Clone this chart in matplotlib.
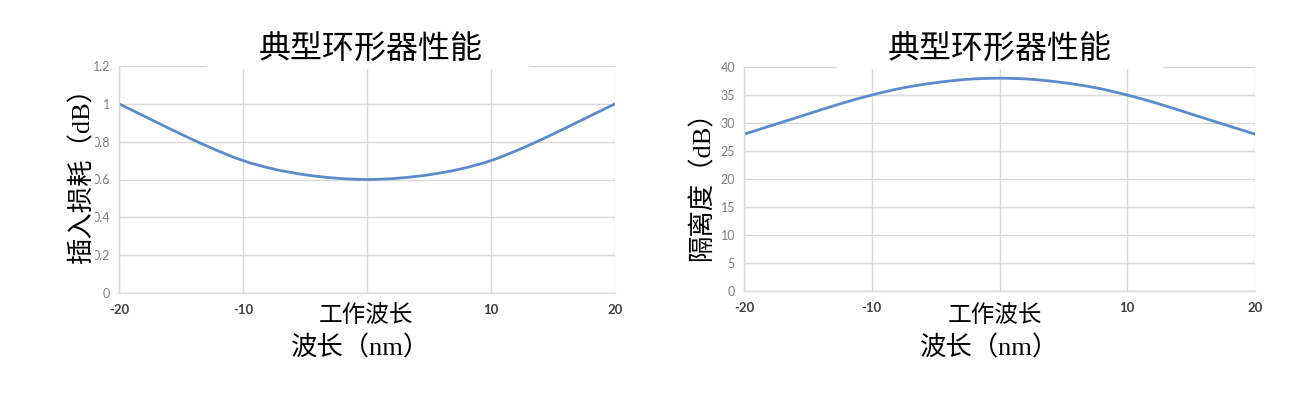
import matplotlib
matplotlib.use("Agg")
import matplotlib.pyplot as plt
from matplotlib.patches import Rectangle, PathPatch
from matplotlib.path import Path

plt.rcParams['axes.unicode_minus'] = False

# wavelength offsets (nm), read every 2.5 nm from the picture
wavelength = [-20, -17.5, -15, -12.5, -10, -7.5, -5, -2.5, 0,
              2.5, 5, 7.5, 10, 12.5, 15, 17.5, 20]
insertion_loss = [1.0, 0.92, 0.84, 0.765, 0.70, 0.655, 0.625, 0.607, 0.60,
                  0.607, 0.625, 0.655, 0.70, 0.765, 0.84, 0.92, 1.0]
isolation = [28.0, 29.8, 31.6, 33.4, 35.0, 36.3, 37.2, 37.8, 38.0,
             37.8, 37.2, 36.3, 35.0, 33.4, 31.6, 29.8, 28.0]

x_ticks = [-20, -10, 0, 10, 20]
x_tick_labels = ['-20', '-10', '', '10', '20']
il_ticks = [0, 0.2, 0.4, 0.6, 0.8, 1.0, 1.2]
il_tick_labels = ['0', '0.2', '0.4', '0.6', '0.8', '1', '1.2']
iso_ticks = [0, 5, 10, 15, 20, 25, 30, 35, 40]
iso_tick_labels = ['0', '5', '10', '15', '20', '25', '30', '35', '40']

title = '典型环形器性能'
x_inner = '工作波长'
x_label = '波长（nm）'
il_label = '插入损耗（dB）'
iso_label = '隔离度（dB）'

serif = ['Liberation Serif', 'Noto Sans CJK SC']
cjk = ['Noto Sans CJK SC', 'DejaVu Sans']
line_color = '#5b8bc9'
grid_color = '#d9d9d9'

W, H = 1291, 393
fig = plt.figure(figsize=(W / 100, H / 100), dpi=100)


def px(x0, y0, x1, y1):
    # pixel box -> figure fraction [left, bottom, width, height]
    return [x0 / W, 1 - y1 / H, (x1 - x0) / W, (y1 - y0) / H]


def smooth_line(ax, xs, ys):
    # Excel-style smoothed line: bezier segments through the points
    pts = list(zip(xs, ys))
    verts = [pts[0]]
    codes = [Path.MOVETO]
    n = len(pts)
    for i in range(n - 1):
        p0 = pts[max(i - 1, 0)]
        p1, p2 = pts[i], pts[i + 1]
        p3 = pts[min(i + 2, n - 1)]
        c1 = (p1[0] + (p2[0] - p0[0]) / 6, p1[1] + (p2[1] - p0[1]) / 6)
        c2 = (p2[0] - (p3[0] - p1[0]) / 6, p2[1] - (p3[1] - p1[1]) / 6)
        verts += [c1, c2, p2]
        codes += [Path.CURVE4] * 3
    ax.add_patch(PathPatch(Path(verts, codes), fill=False,
                           edgecolor=line_color, linewidth=2,
                           capstyle='round', joinstyle='round'))


def style(ax, yticks, ylabels, ymax):
    ax.set_xlim(-20, 20)
    ax.set_ylim(0, ymax)
    ax.set_xticks(x_ticks)
    ax.set_xticklabels(x_tick_labels, fontsize=9.5, fontweight='bold',
                       color='#404040', family='Lato')
    ax.set_yticks(yticks)
    ax.set_yticklabels(ylabels, fontsize=9, color='#808080', family='Lato')
    ax.tick_params(axis='x', length=0, pad=8)
    ax.tick_params(axis='y', length=0, pad=6.5)
    ax.grid(True, color=grid_color, linewidth=1)
    ax.set_axisbelow(True)
    for side in ['top', 'right']:
        ax.spines[side].set_visible(False)
    for side in ['left', 'bottom']:
        ax.spines[side].set_color(grid_color)
        ax.spines[side].set_linewidth(1)


# left: insertion loss
ax1 = fig.add_axes(px(119, 66, 615, 293))
smooth_line(ax1, wavelength, insertion_loss)
style(ax1, il_ticks, il_tick_labels, 1.2)

# right: isolation
ax2 = fig.add_axes(px(744, 67, 1255, 291))
smooth_line(ax2, wavelength, isolation)
style(ax2, iso_ticks, iso_tick_labels, 40)

panels = [
    # title x, title box, ylabel x, ylabel y, label, cover ticks
    (371, (207, 529), 82, 169, il_label, True),
    (1000, (837, 1163), 702, 179, iso_label, False),
]
for cx, (bx0, bx1), ylab_x, ylab_y, lab, cover in panels:
    fig.add_artist(Rectangle((bx0 / W, 1 - 69 / H), (bx1 - bx0) / W, 40 / H,
                             transform=fig.transFigure, facecolor='white',
                             edgecolor='none', zorder=2.5))
    fig.text(cx / W, 1 - 50 / H, title, ha='center', va='center', fontsize=23,
             family=cjk)
    fig.text((cx - 5) / W, 1 - 316 / H, x_inner, ha='center', va='center',
             fontsize=17, family=cjk)
    fig.text((cx - 10) / W, 1 - 348 / H, x_label, ha='center', va='center',
             fontsize=19, family=serif)
    kw = dict(bbox=dict(facecolor='white', edgecolor='none',
                        boxstyle='square,pad=0.02')) if cover else {}
    fig.text(ylab_x / W, 1 - ylab_y / H, lab, ha='center', va='center',
             rotation=90, fontsize=19, family=serif, **kw)

fig.savefig('out.png', dpi=100)
